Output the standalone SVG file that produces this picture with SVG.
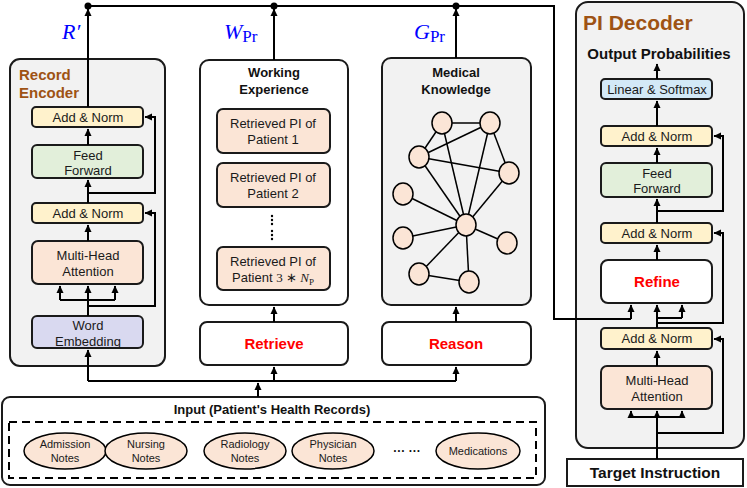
<svg xmlns="http://www.w3.org/2000/svg" width="747" height="488" viewBox="0 0 747 488">
<defs>
<marker id="ah" markerWidth="8" markerHeight="8" refX="7" refY="4" orient="auto" markerUnits="userSpaceOnUse">
<path d="M0,0.5 L7.5,4 L0,7.5 z" fill="#000"/>
</marker>
<style>
.cont{fill:#f2f2f2;stroke:#1a1a1a;stroke-width:2}
.wbox{fill:#fff;stroke:#1a1a1a;stroke-width:2}
.an{fill:#fff2cc;stroke:#1a1a1a;stroke-width:2}
.ff{fill:#e2efda;stroke:#1a1a1a;stroke-width:2}
.mha{fill:#fbe5d6;stroke:#1a1a1a;stroke-width:2}
.we{fill:#d9d9f0;stroke:#1a1a1a;stroke-width:2}
.lin{fill:#d3e9f7;stroke:#1a1a1a;stroke-width:2}
.t{font-family:"Liberation Sans",Arial,sans-serif;font-size:13px;fill:#1a1a1a;text-anchor:middle}
.tb{font-family:"Liberation Sans",Arial,sans-serif;font-size:13px;font-weight:bold;fill:#111;text-anchor:middle}
.red{font-family:"Liberation Sans",Arial,sans-serif;font-size:15px;font-weight:bold;fill:#ff0000;text-anchor:middle}
.brown{font-family:"Liberation Sans",Arial,sans-serif;font-weight:bold;fill:#9e5314}
.small{font-family:"Liberation Sans",Arial,sans-serif;font-size:11px;fill:#1a1a1a;text-anchor:middle}
.math{font-family:"Liberation Serif","Times New Roman",serif;fill:#0000ff}
.c{fill:none;stroke:#000;stroke-width:2}
.a{fill:none;stroke:#000;stroke-width:2;marker-end:url(#ah)}
.ge{stroke:#000;stroke-width:1.5}
.gn{fill:#fbe5d6;stroke:#000;stroke-width:1.5}
.note{fill:#fbe5d6;stroke:#000;stroke-width:1.5}
</style>
</defs>

<!-- containers -->
<g id="record-encoder">
<rect class="cont" x="10" y="59" width="155" height="307" rx="10"/>
<text class="brown" x="19" y="80" font-size="15">Record</text>
<text class="brown" x="19" y="98" font-size="15">Encoder</text>
</g>

<g id="working-experience">
<rect class="wbox" x="200" y="60" width="148" height="245" rx="9"/>
<text class="tb" x="274" y="77">Working</text>
<text class="tb" x="274" y="94">Experience</text>
</g>

<g id="medical-knowledge">
<rect class="cont" x="382" y="58" width="149" height="247" rx="9"/>
<text class="tb" x="456" y="77">Medical</text>
<text class="tb" x="456" y="94">Knowledge</text>
<g id="graph">
<line class="ge" x1="442" y1="123" x2="490" y2="123"/>
<line class="ge" x1="442" y1="123" x2="419" y2="157"/>
<line class="ge" x1="419" y1="157" x2="490" y2="123"/>
<line class="ge" x1="490" y1="123" x2="509" y2="173"/>
<line class="ge" x1="419" y1="157" x2="509" y2="173"/>
<line class="ge" x1="442" y1="123" x2="466" y2="225"/>
<line class="ge" x1="490" y1="123" x2="466" y2="225"/>
<line class="ge" x1="419" y1="157" x2="466" y2="225"/>
<line class="ge" x1="509" y1="173" x2="466" y2="225"/>
<line class="ge" x1="403" y1="194" x2="466" y2="225"/>
<line class="ge" x1="403" y1="238" x2="466" y2="225"/>
<line class="ge" x1="507" y1="243" x2="466" y2="225"/>
<line class="ge" x1="419" y1="274" x2="466" y2="225"/>
<line class="ge" x1="469" y1="282" x2="466" y2="225"/>
<line class="ge" x1="419" y1="274" x2="469" y2="282"/>
<ellipse class="gn" cx="442" cy="123" rx="10" ry="11"/>
<ellipse class="gn" cx="490" cy="123" rx="10" ry="11"/>
<ellipse class="gn" cx="419" cy="157" rx="10" ry="11"/>
<ellipse class="gn" cx="509" cy="173" rx="10" ry="11"/>
<ellipse class="gn" cx="403" cy="194" rx="10" ry="11"/>
<ellipse class="gn" cx="466" cy="225" rx="10" ry="11"/>
<ellipse class="gn" cx="403" cy="238" rx="10" ry="11"/>
<ellipse class="gn" cx="507" cy="243" rx="10" ry="11"/>
<ellipse class="gn" cx="419" cy="274" rx="10" ry="11"/>
<ellipse class="gn" cx="469" cy="282" rx="10" ry="11"/>
</g>
</g>

<g id="pi-decoder">
<rect class="cont" x="576" y="2" width="168" height="446" rx="12"/>
<text class="brown" x="583" y="30" font-size="21">PI Decoder</text>
<text class="tb" x="659" y="59" font-size="15" style="font-size:15px">Output Probabilities</text>
</g>

<g id="input">
<rect class="wbox" x="2" y="397" width="543" height="88" rx="8"/>
<text class="tb" x="272" y="414">Input (Patient's Health Records)</text>
<rect x="9" y="422" width="527" height="56" fill="none" stroke="#000" stroke-width="2" stroke-dasharray="8,5"/>
</g>

<!-- encoder nodes -->
<g id="enc-addnorm2"><rect class="an" x="32" y="107" width="111" height="20" rx="4"/><text class="t" x="88" y="121.5">Add &amp; Norm</text></g>
<g id="enc-ff"><rect class="ff" x="32" y="145" width="111" height="33" rx="5"/><text class="t" x="88" y="159.5">Feed</text><text class="t" x="88" y="174.5">Forward</text></g>
<g id="enc-addnorm1"><rect class="an" x="32" y="203" width="111" height="20" rx="4"/><text class="t" x="88" y="217.5">Add &amp; Norm</text></g>
<g id="enc-mha"><rect class="mha" x="32" y="241" width="111" height="43" rx="6"/><text class="t" x="88" y="259.5">Multi-Head</text><text class="t" x="88" y="275.5">Attention</text></g>
<g id="enc-we"><rect class="we" x="32" y="316" width="111" height="32" rx="5"/><text class="t" x="88" y="329.5">Word</text><text class="t" x="88" y="345.5">Embedding</text></g>

<!-- working experience items -->
<g id="pi1"><rect class="mha" x="217" y="109" width="113" height="44" rx="6"/><text class="t" x="273" y="127.5">Retrieved PI of</text><text class="t" x="273" y="143.5">Patient 1</text></g>
<g id="pi2"><rect class="mha" x="217" y="163" width="113" height="44" rx="6"/><text class="t" x="273" y="181.5">Retrieved PI of</text><text class="t" x="273" y="197.5">Patient 2</text></g>
<g id="vdots" fill="#000">
<circle cx="272" cy="216" r="1.2"/><circle cx="272" cy="220" r="1.2"/><circle cx="272" cy="224" r="1.2"/>
<circle cx="272" cy="231" r="1.2"/><circle cx="272" cy="235" r="1.2"/><circle cx="272" cy="239" r="1.2"/>
</g>
<g id="pi3"><rect class="mha" x="217" y="247" width="113" height="43" rx="6"/><text class="t" x="273" y="265.5">Retrieved PI of</text><text class="t" x="273" y="281.5">Patient <tspan font-family="Liberation Serif,serif">3 ∗ </tspan><tspan font-family="Liberation Serif,serif" font-style="italic">N</tspan><tspan font-family="Liberation Serif,serif" font-size="9" dy="3">P</tspan></text></g>

<g id="retrieve"><rect class="wbox" x="200" y="322" width="148" height="43" rx="7"/><text class="red" x="274" y="349">Retrieve</text></g>
<g id="reason"><rect class="wbox" x="382" y="322" width="149" height="43" rx="7"/><text class="red" x="456" y="349">Reason</text></g>

<!-- decoder nodes -->
<g id="dec-linear"><rect class="lin" x="601" y="79" width="111" height="20" rx="4"/><text class="t" x="657" y="93.5">Linear &amp; Softmax</text></g>
<g id="dec-addnorm3"><rect class="an" x="601" y="126" width="111" height="20" rx="4"/><text class="t" x="657" y="140.5">Add &amp; Norm</text></g>
<g id="dec-ff"><rect class="ff" x="601" y="163" width="111" height="34" rx="5"/><text class="t" x="657" y="177.5">Feed</text><text class="t" x="657" y="193">Forward</text></g>
<g id="dec-addnorm2"><rect class="an" x="601" y="223" width="111" height="20" rx="4"/><text class="t" x="657" y="237.5">Add &amp; Norm</text></g>
<g id="dec-refine"><rect class="wbox" x="601" y="260" width="111" height="43" rx="7"/><text class="red" x="657" y="287">Refine</text></g>
<g id="dec-addnorm1"><rect class="an" x="601" y="328" width="111" height="21" rx="4"/><text class="t" x="657" y="343">Add &amp; Norm</text></g>
<g id="dec-mha"><rect class="mha" x="601" y="366" width="111" height="43" rx="6"/><text class="t" x="657" y="384.5">Multi-Head</text><text class="t" x="657" y="400.5">Attention</text></g>
<g id="target"><rect x="567" y="459" width="176" height="27" fill="#fff" stroke="#1a1a1a" stroke-width="2"/><text class="tb" x="655" y="478" style="font-size:15.5px">Target Instruction</text></g>

<!-- input notes -->
<g id="notes">
<g id="admission"><ellipse class="note" cx="65" cy="451" rx="41" ry="18"/><text class="small" x="65" y="448">Admission</text><text class="small" x="65" y="462">Notes</text></g>
<g id="nursing"><ellipse class="note" cx="146" cy="451" rx="41" ry="18"/><text class="small" x="146" y="448">Nursing</text><text class="small" x="146" y="462">Notes</text></g>
<g id="radiology"><ellipse class="note" cx="245" cy="451" rx="41" ry="18"/><text class="small" x="245" y="448">Radiology</text><text class="small" x="245" y="462">Notes</text></g>
<g id="physician"><ellipse class="note" cx="333" cy="451" rx="41" ry="18"/><text class="small" x="333" y="448">Physician</text><text class="small" x="333" y="462">Notes</text></g>
<text class="tb" x="407" y="455" style="font-size:12px">··· ···</text>
<g id="medications"><ellipse class="note" cx="478" cy="451" rx="42" ry="18"/><text class="small" x="478" y="455">Medications</text></g>
</g>

<!-- labels -->
<g id="labels">
<text class="math" x="62" y="39" font-size="22" font-style="italic">R′</text>
<text class="math" x="224" y="39" font-size="22"><tspan font-style="italic">W</tspan><tspan font-size="17" dy="3">Pr</tspan></text>
<text class="math" x="414" y="39" font-size="22"><tspan font-style="italic">G</tspan><tspan font-size="17" dy="3">Pr</tspan></text>
</g>

<!-- connectors -->
<g id="connectors">
<!-- input distribution -->
<path class="a" d="M258,397 V383"/>
<path class="c" d="M88,381 H456"/>
<path class="a" d="M88,381 V350"/>
<path class="a" d="M274,381 V367"/>
<path class="a" d="M456,381 V367"/>
<!-- encoder -->
<path class="a" d="M88,316 V286"/>
<path class="c" d="M60,300 H115"/>
<path class="a" d="M60,300 V286"/>
<path class="a" d="M115,300 V286"/>
<path class="a" d="M88,306 H155 V213 H145"/>
<path class="a" d="M88,241 V225"/>
<path class="a" d="M88,203 V180"/>
<path class="a" d="M88,193 H155 V117 H145"/>
<path class="a" d="M88,145 V129"/>
<path class="a" d="M88,107 V9"/>
<!-- middle -->
<path class="a" d="M274,322 V307"/>
<path class="a" d="M274,60 V9"/>
<path class="a" d="M456,322 V307"/>
<path class="a" d="M456,58 V9"/>
<!-- top bus -->
<path class="c" d="M88,6 H554 V319 H631"/>
<path class="a" d="M631,319 V305"/>
<circle cx="88" cy="6" r="3.5" fill="#000"/>
<circle cx="274" cy="6" r="3.5" fill="#000"/>
<circle cx="456" cy="6" r="3.5" fill="#000"/>
<!-- decoder -->
<path class="a" d="M657,459 V411"/>
<path class="c" d="M631,417 H682"/>
<path class="a" d="M631,417 V411"/>
<path class="a" d="M682,417 V411"/>
<path class="a" d="M657,433 H723 V339 H714"/>
<path class="a" d="M657,366 V351"/>
<path class="a" d="M657,328 V305"/>
<path class="c" d="M657,318 H682"/>
<path class="a" d="M682,318 V305"/>
<path class="a" d="M657,323 H723 V233 H714"/>
<path class="a" d="M657,260 V245"/>
<path class="a" d="M657,223 V199"/>
<path class="a" d="M657,211 H723 V136 H714"/>
<path class="a" d="M657,163 V148"/>
<path class="a" d="M657,126 V101"/>
<path class="a" d="M657,79 V64"/>
</g>
</svg>
